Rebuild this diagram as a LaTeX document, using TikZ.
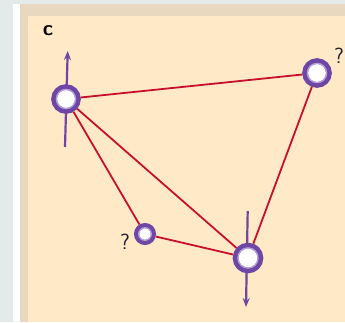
\documentclass[tikz,border=0pt]{standalone}
\usepackage{xcolor}
\usepackage{tikz}
\usetikzlibrary{arrows.meta}
\definecolor{mygrey}{RGB}{228,234,234}
\definecolor{mytan}{RGB}{232,216,192}
\definecolor{mycream}{RGB}{255,233,198}
\definecolor{myred}{RGB}{200,16,46}
\definecolor{mypurple}{RGB}{112,70,165}
\definecolor{mylilac}{RGB}{180,160,220}
\definecolor{mydark}{RGB}{30,30,50}
\tikzset{
  spin/.style={circle, draw=mypurple, fill=white, line width=5.6pt,
    inner sep=0pt, minimum size=24pt},
  smallspin/.style={spin, minimum size=17pt, line width=5pt},
  bond/.style={color=myred, line width=1.8pt},
  moment/.style={-{Stealth[length=9pt,width=7pt]}, color=mypurple, line width=2.2pt},
  query/.style={font=\sffamily\fontsize{22}{26}\selectfont, color=mydark, inner sep=1pt}
}
\begin{document}
\begin{tikzpicture}[x=1pt, y=-1pt]
  % Background and frame
  \fill[mygrey] (0,0) rectangle (345,322);
  \fill[white] (13,4) rectangle (20,322);
  \fill[mytan] (20,4) rectangle (345,322);
  \fill[mycream] (28,16) rectangle (345,322);
  \useasboundingbox (0,0) rectangle (345,322);

  % Panel label
  \node[font=\sffamily\bfseries\fontsize{21}{24}\selectfont] (lbl) at (48,31) {c};

  % Spin moments (drawn under the sites)
  \coordinate (atail) at (65,147);
  \coordinate (ahead) at (67.7,51);
  \coordinate (dtail) at (247.7,211);
  \coordinate (dhead) at (246,307);
  \draw[moment] (atail) -- (ahead);
  \draw[moment] (dtail) -- (dhead);

  % Sites
  \node[spin] (A) at (66,99) {};
  \node[spin] (B) at (317,73) {};
  \node[smallspin] (C) at (145,234) {};
  \node[spin, minimum size=25pt] (D) at (248,258) {};

  % Bonds
  \draw[bond] (A) -- (B);
  \draw[bond] (A) -- (C);
  \draw[bond] (A) -- (D);
  \draw[bond] (C) -- (D);
  \draw[bond] (B) -- (D);

  % Inner rim of the sites
  \foreach \s/\r in {A/9.6,B/9.6,C/6.3,D/10.1}
    \draw[mylilac, line width=1.3pt] (\s.center) circle[radius=\r pt];

  % Unknown spins
  \node[query] (qb) at (339,56) {?};
  \node[query] (qc) at (125,242) {?};
\end{tikzpicture}
\end{document}
